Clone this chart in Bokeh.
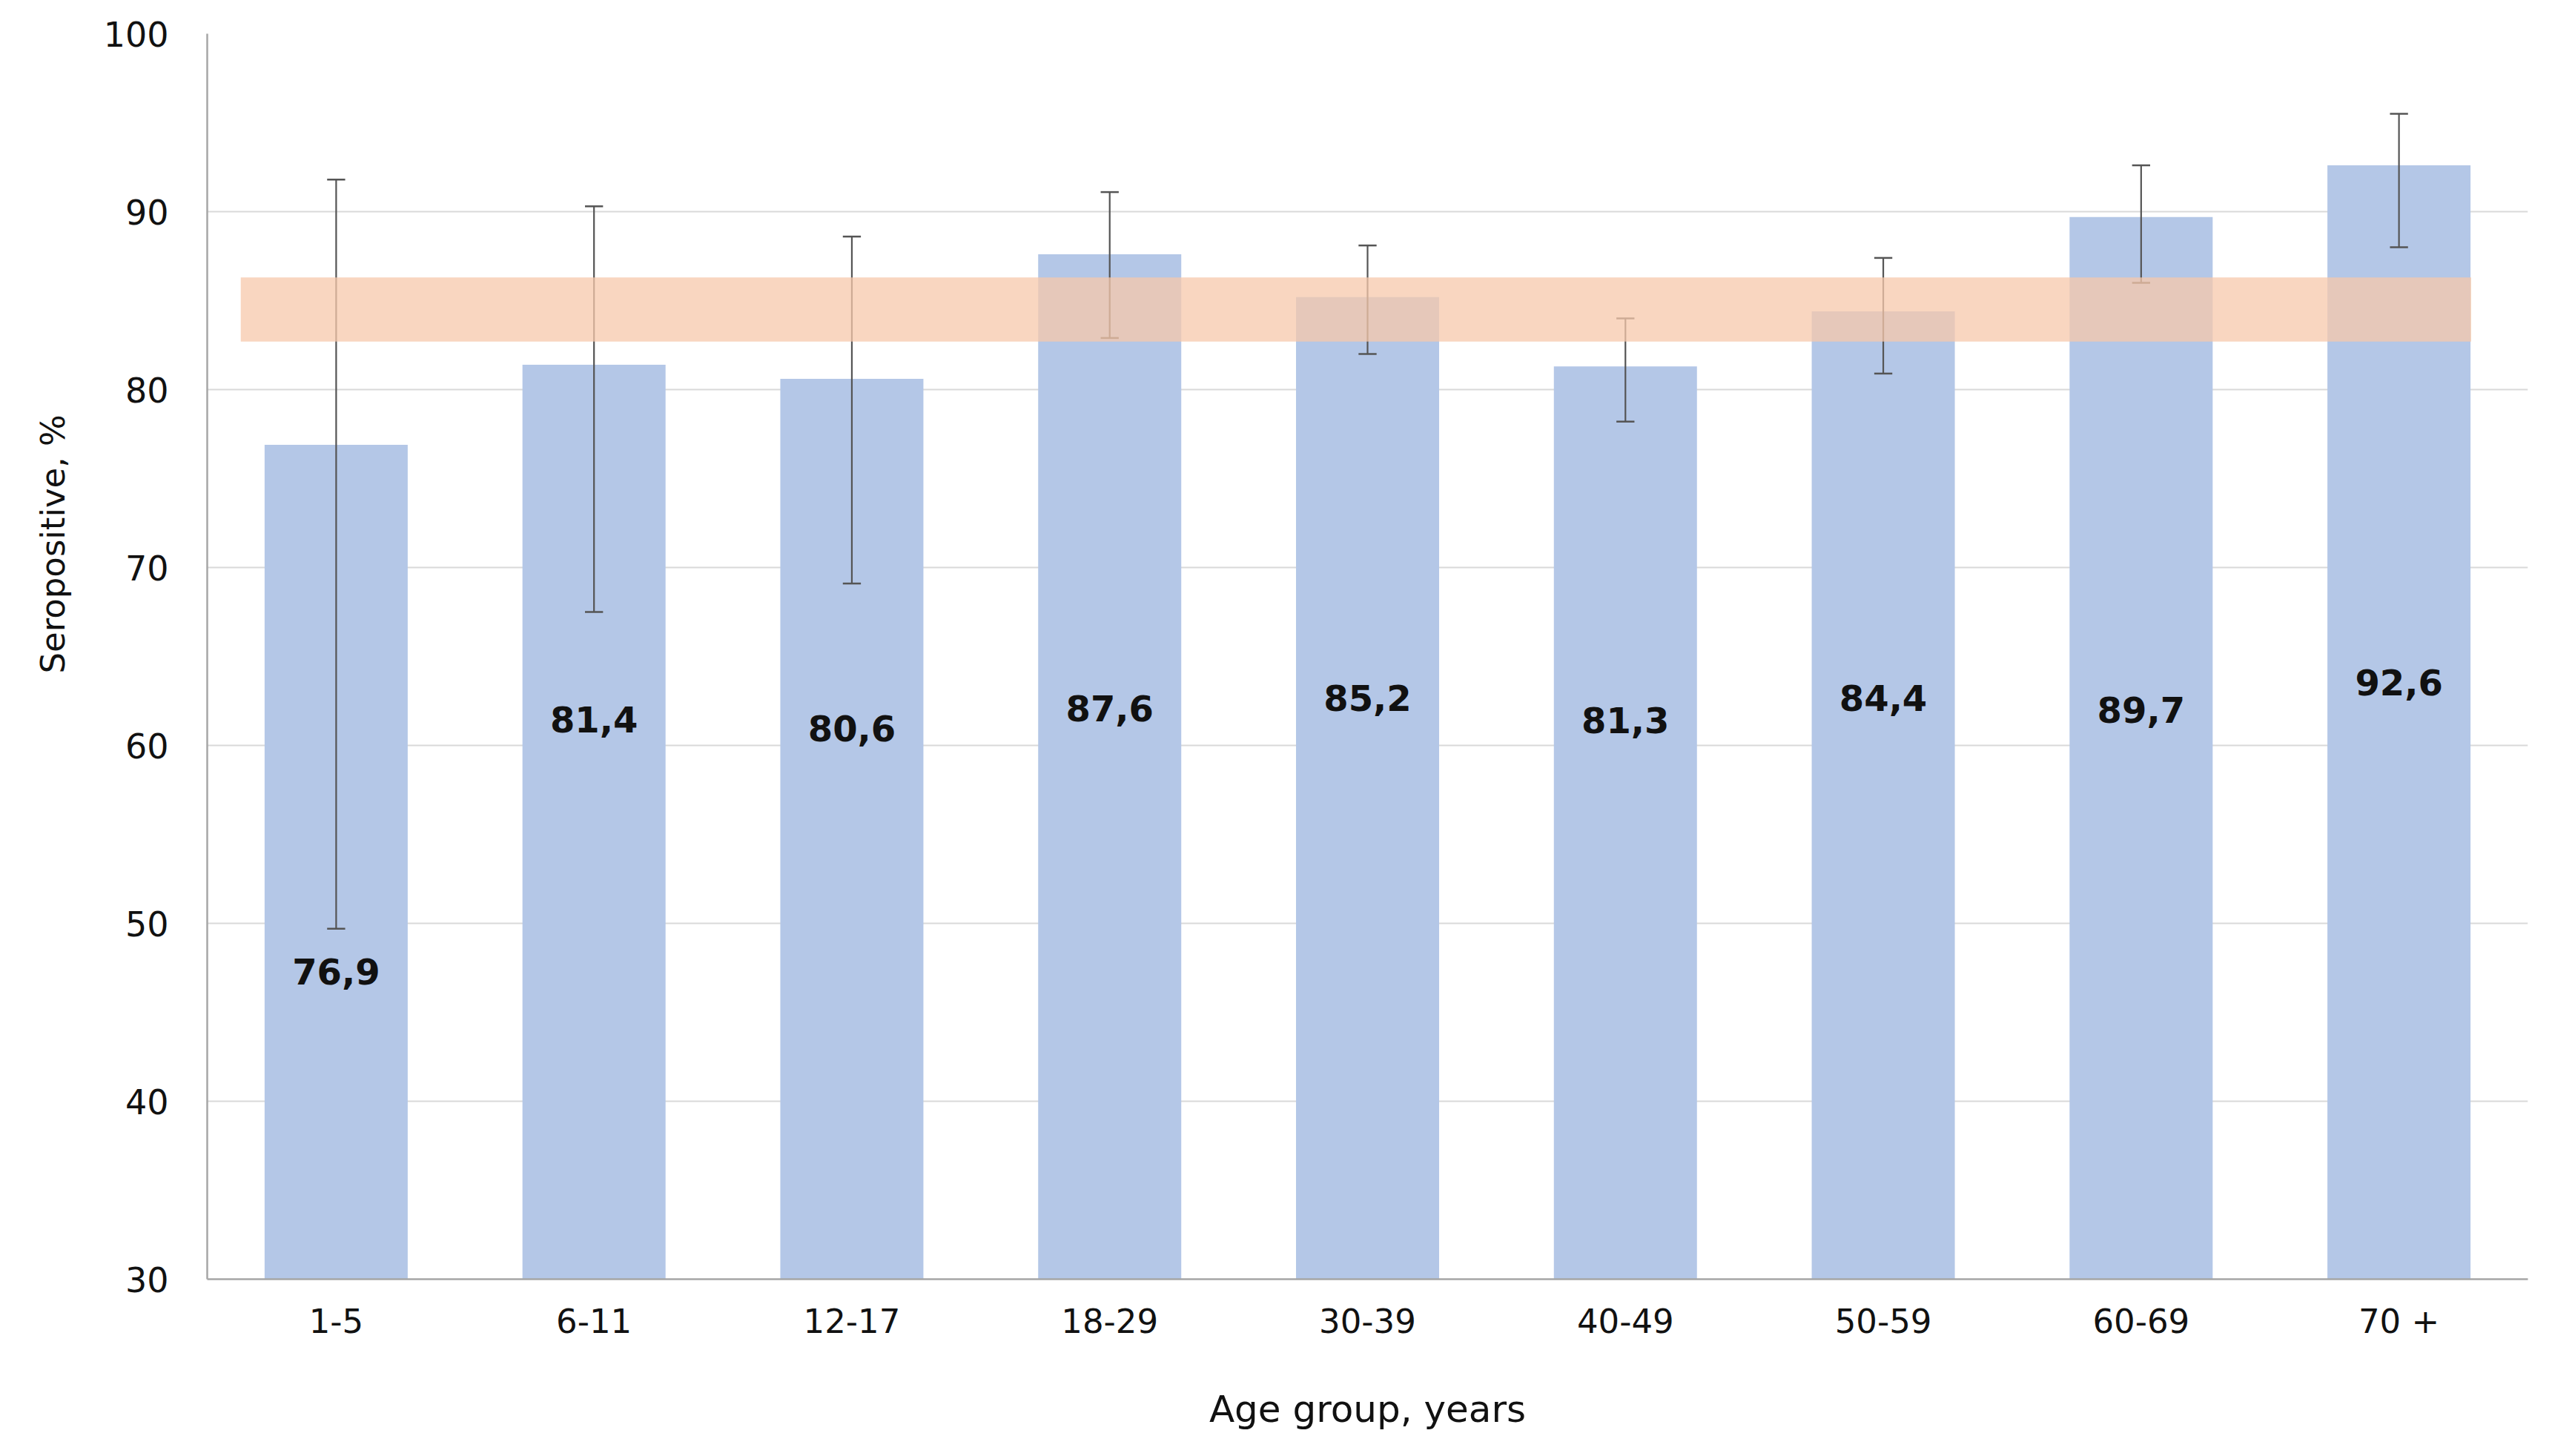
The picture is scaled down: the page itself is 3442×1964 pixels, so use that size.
import numpy as np
from bokeh.plotting import figure
from bokeh.models import Range1d, FactorRange, Title
from bokeh.core.properties import value
from bokeh.embed import file_html
from bokeh.resources import INLINE

# ---- data ----
categories = ["1-5", "6-11", "12-17", "18-29", "30-39", "40-49", "50-59", "60-69", "70 +"]
seropositive = [76.9, 81.4, 80.6, 87.6, 85.2, 81.3, 84.4, 89.7, 92.6]
ci_upper = [91.8, 90.3, 88.6, 91.1, 88.1, 84.0, 87.4, 92.6, 95.5]
ci_lower = [49.7, 67.5, 69.1, 82.9, 82.0, 78.2, 80.9, 86.0, 88.0]
label_y = [47.3, 61.45, 60.95, 62.1, 62.65, 61.4, 62.65, 62.0, 63.55]
band_low, band_high = 82.7, 86.3
y_ticks = [30, 40, 50, 60, 70, 80, 90, 100]
x_title = "Age group, years"
y_title = "Seropositive, %"

labels = [f"{v:.1f}".replace(".", ",") for v in seropositive]
xc = [i + 0.5 for i in range(len(categories))]

W, H = 3426, 1948
p = figure(width=W, height=H,
           x_range=FactorRange(factors=categories, range_padding=0, factor_padding=0),
           y_range=Range1d(30, 100),
           output_backend="svg", toolbar_location=None,
           min_border_left=279, min_border_right=17,
           min_border_top=45, min_border_bottom=223)
p.outline_line_color = None
p.background_fill_color = "white"

# grid
p.xgrid.visible = False
p.ygrid.grid_line_color = "#D9D9D9"
p.ygrid.grid_line_width = 2
p.ygrid.ticker = y_ticks

# axes
p.yaxis.ticker = y_ticks
for ax in (p.xaxis[0], p.yaxis[0]):
    ax.axis_line_color = "#A6A6A6"
    ax.axis_line_width = 2.5
    ax.major_tick_line_color = None
    ax.minor_tick_line_color = None
    ax.major_tick_out = 0
    ax.major_tick_in = 0
    ax.major_label_text_font = "DejaVu Sans"
    ax.major_label_text_color = "#111111"
p.yaxis.major_label_text_font_size = "46px"
p.yaxis.major_label_standoff = 52
p.xaxis.major_label_text_font_size = "45px"
p.xaxis.major_label_standoff = 30
p.xaxis.axis_label = x_title
p.xaxis.axis_label_text_font = "DejaVu Sans"
p.xaxis.axis_label_text_font_size = "50px"
p.xaxis.axis_label_text_font_style = "normal"
p.xaxis.axis_label_text_color = "#111111"
p.xaxis.axis_label_standoff = 60

# bars
p.vbar(x=categories, top=seropositive, bottom=0, width=0.555,
       fill_color="#B4C7E7", line_color=None)

# error bars
p.segment(x0=xc, x1=xc, y0=ci_lower, y1=ci_upper,
          line_color="#555555", line_width=2.2)
cap = 0.035
p.segment(x0=[x - cap for x in xc], x1=[x + cap for x in xc], y0=ci_upper, y1=ci_upper,
          line_color="#555555", line_width=2.5)
p.segment(x0=[x - cap for x in xc], x1=[x + cap for x in xc], y0=ci_lower, y1=ci_lower,
          line_color="#555555", line_width=2.5)

# reference band
p.quad(left=[0.13], right=[8.78], bottom=[band_low], top=[band_high],
       fill_color="#F7C8AB", fill_alpha=0.75, line_color=None)

# value labels
p.text(x=xc, y=label_y, text=labels, text_align="center", text_baseline="middle",
       text_font=value("DejaVu Sans"), text_font_style="bold",
       text_font_size="48px", text_color="#111111")

# y-axis title (sits above centre, as in the original)
yt = Title(text=y_title, align="left", text_font="DejaVu Sans",
           text_font_size="45px", text_font_style="normal", text_color="#111111")
props = yt.properties()
if "offset" in props:
    yt.offset = 817
if "standoff" in props:
    yt.standoff = 78
p.add_layout(yt, "left")

open("out.html", "w").write(file_html(p, INLINE))
